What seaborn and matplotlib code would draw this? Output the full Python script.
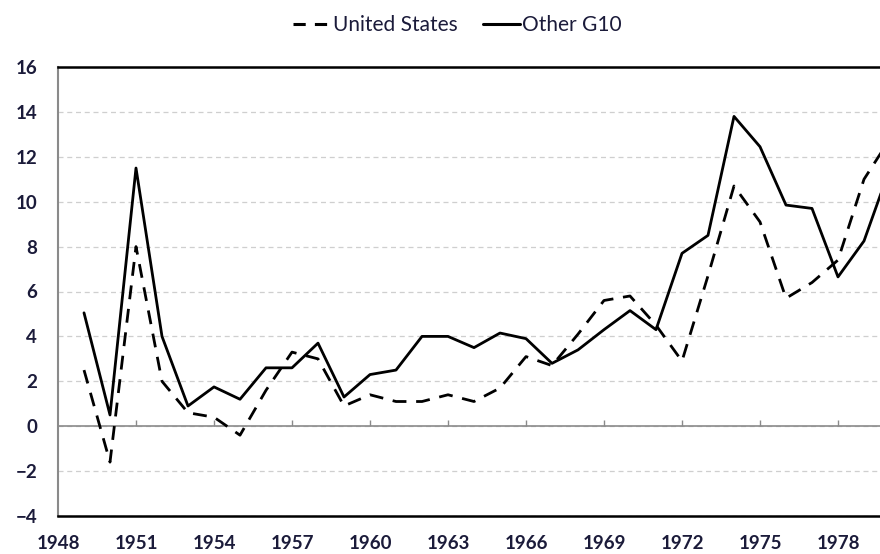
import pandas as pd
import matplotlib.pyplot as plt
import seaborn as sns

# valeurs (inflation, %)
years = list(range(1949, 1981))
us = [2.5, -1.6, 8.0, 2.0, 0.6, 0.4, -0.4, 1.6, 3.3, 3.0, 0.9, 1.4, 1.1, 1.1, 1.4, 1.1,
      1.7, 3.1, 2.7, 4.1, 5.6, 5.8, 4.5, 2.9, 6.7, 10.7, 9.1, 5.7, 6.4, 7.4, 11.0, 12.8]
other_g10 = [5.05, 0.5, 11.5, 4.0, 0.9, 1.75, 1.2, 2.6, 2.6, 3.7, 1.3, 2.3, 2.5, 4.0, 4.0, 3.5,
             4.15, 3.9, 2.8, 3.4, 4.3, 5.15, 4.3, 7.7, 8.5, 13.8, 12.45, 9.85, 9.7, 6.65, 8.25, 11.5]
series_names = ["United States", "Other G10"]
x_ticks = list(range(1948, 1979, 3))
y_ticks = list(range(-4, 17, 2))

df = pd.DataFrame({
    "year": years * 2,
    "value": us + other_g10,
    "series": [series_names[0]] * len(years) + [series_names[1]] * len(years),
})

sns.set_style("white")
plt.rcParams['font.family'] = ['Lato', 'DejaVu Sans']

fig = plt.figure(figsize=(8.8, 5.54), dpi=100)
ax = fig.add_axes([58 / 880, 38 / 554, 822 / 880, 449 / 554])

sns.lineplot(data=df, x="year", y="value", style="series", style_order=series_names,
             dashes={series_names[0]: (5, 3.5), series_names[1]: ""},
             color="black", linewidth=2.0, ax=ax, legend=False)

ax.set_xlim(1948, 1948 + 822 / 26)
ax.set_ylim(-4, 16)
ax.set_xticks(x_ticks)
ax.set_yticks(y_ticks)
ax.set_xlabel("")
ax.set_ylabel("")

ax.yaxis.grid(True, color="#cfcfcf", linestyle=(0, (4, 3)), linewidth=0.9)
ax.set_axisbelow(True)

# ligne du zéro avec petites graduations
ax.axhline(0, color="#8a8a8a", linewidth=1.2, zorder=1)
ax.vlines(x_ticks[1:], 0, 0.28, color="#8a8a8a", linewidth=1.0, zorder=1)

for side in ["top", "bottom"]:
    ax.spines[side].set_color("black")
    ax.spines[side].set_linewidth(1.8)
ax.spines["left"].set_color("#8a8a8a")
ax.spines["left"].set_linewidth(1.5)
ax.spines["right"].set_visible(False)

label_color = "#1b1b3a"
ax.tick_params(axis="x", length=0, pad=14, labelsize=13.5, labelcolor=label_color)
ax.tick_params(axis="y", length=0, pad=15, labelsize=13.5, labelcolor=label_color)
for lab in ax.get_xticklabels() + ax.get_yticklabels():
    lab.set_fontweight("bold")

handles = [
    plt.Line2D([], [], color="black", linewidth=2.2, linestyle=(0, (4, 3))),
    plt.Line2D([], [], color="black", linewidth=2.2),
]
leg = fig.legend(handles, series_names, loc="center", bbox_to_anchor=(0.52, 0.955),
                 ncol=2, frameon=False, fontsize=15, handlelength=1.8,
                 handletextpad=0.1, columnspacing=1.2)
for t in leg.get_texts():
    t.set_color(label_color)

plt.savefig("out.png", dpi=100)
